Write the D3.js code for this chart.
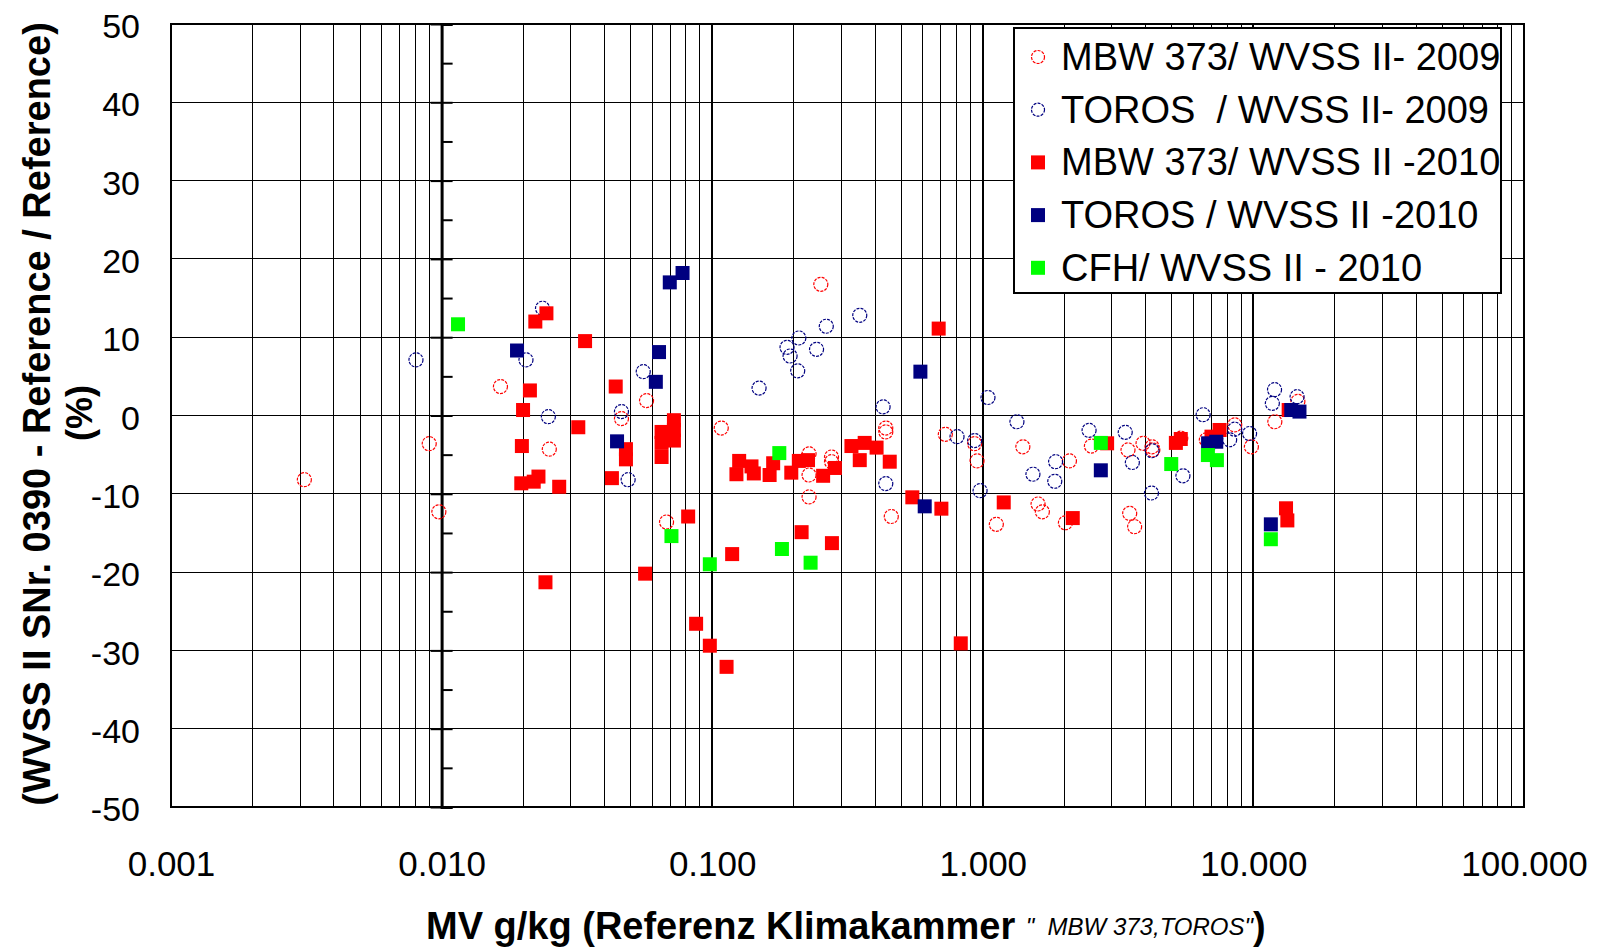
<!DOCTYPE html>
<html>
<head>
<meta charset="utf-8">
<script src="https://cdn.jsdelivr.net/npm/d3@7"></script>
<style>
  body { margin: 0; background: #fff; }
  svg { display: block; font-family: "Liberation Sans", Arial, sans-serif; }
</style>
</head>
<body>
<svg id="chart" width="1599" height="949"></svg>
<script>
// series values: [MV g/kg, deviation %]
var mbw2009 = [[0.00311,-8.2],[0.0090,-3.6],[0.00977,-12.3],[0.0165,3.7],[0.0250,-4.3],[0.0462,-0.4],
  [0.0572,1.9],[0.0678,-13.6],[0.108,-1.6],[0.252,16.75],[0.228,-4.9],[0.228,-7.6],[0.228,-10.4],
  [0.276,-5.3],[0.276,-5.9],[0.438,-1.6],[0.438,-2.1],[0.459,-12.9],[0.727,-2.4],[0.933,-3.6],
  [0.952,-5.8],[1.122,-13.9],[1.406,-4.0],[1.60,-11.3],[1.66,-12.3],[2.09,-5.8],[2.02,-13.7],
  [2.52,-3.9],[3.44,-4.4],[3.49,-12.5],[3.64,-14.2],[3.91,-3.55],[4.22,-4.0],[4.25,-4.4],
  [5.39,-2.9],[6.70,-3.1],[8.53,-1.2],[9.83,-4.0],[12.0,-0.8],[14.6,1.8]];
var toros2009 = [[0.00804,7.1],[0.0236,13.7],[0.0205,7.1],[0.0248,-0.15],[0.0462,0.5],[0.0489,-8.2],
  [0.0556,5.6],[0.149,3.5],[0.189,8.7],[0.194,7.6],[0.209,9.9],[0.207,5.7],[0.243,8.45],[0.264,11.4],
  [0.351,12.8],[0.428,1.1],[0.438,-8.7],[0.803,-2.7],[0.933,-3.2],[0.977,-9.6],[1.045,2.3],
  [1.337,-0.8],[1.532,-7.5],[1.858,-5.9],[1.845,-8.4],[2.47,-1.9],[3.36,-2.15],[3.57,-6.0],
  [4.22,-4.5],[4.20,-9.9],[5.49,-7.7],[6.52,0.1],[8.17,-3.1],[8.53,-1.75],[9.68,-2.3],
  [11.97,3.3],[11.75,1.55],[14.5,2.4]];
var mbw2010 = [[0.0244,13.05],[0.0222,12.0],[0.0339,9.5],[0.0440,3.7],[0.0212,3.2],[0.0200,0.7],
  [0.0320,-1.5],[0.0198,-3.9],[0.0197,-8.66],[0.0219,-8.45],[0.0228,-7.8],[0.0272,-9.1],[0.0426,-8.0],
  [0.0242,-21.3],[0.048,-4.3],[0.048,-5.6],[0.0722,-0.6],[0.0722,-1.85],[0.0722,-3.2],[0.0650,-2.1],
  [0.0650,-3.5],[0.0650,-5.3],[0.1258,-5.8],[0.1229,-7.5],[0.1397,-6.5],[0.1425,-7.4],[0.163,-7.6],
  [0.168,-6.1],[0.196,-7.3],[0.209,-5.8],[0.226,-5.7],[0.257,-7.7],[0.284,-6.7],[0.327,-3.9],
  [0.366,-3.5],[0.405,-4.1],[0.351,-5.7],[0.453,-5.9],[0.549,-10.45],[0.0815,-12.9],[0.1185,-17.7],
  [0.0565,-20.2],[0.214,-14.9],[0.277,-16.3],[0.0872,-26.6],[0.098,-29.4],[0.113,-32.1],[0.687,11.1],
  [0.703,-11.9],[0.829,-29.1],[1.195,-11.1],[2.15,-13.1],[2.88,-3.55],[5.17,-3.5],[5.39,-3.0],
  [7.50,-1.85],[7.0,-2.7],[13.5,0.7],[13.2,-11.85],[13.35,-13.4]];
var toros2010 = [[0.0190,8.3],[0.0445,-3.3],[0.0777,18.2],[0.0697,17.0],[0.0636,8.1],[0.0619,4.3],
  [0.588,5.6],[0.610,-11.6],[2.73,-7.0],[7.29,-3.35],[6.8,-3.55],[13.8,0.7],[14.8,0.5],[11.6,-13.9]];
var cfh2010 = [[0.0115,11.65],[0.0707,-15.4],[0.098,-19.0],[0.177,-4.8],[0.181,-17.05],[0.231,-18.8],
  [2.73,-3.5],[4.97,-6.2],[6.79,-5.05],[7.33,-5.7],[11.6,-15.8]];

var seriesNames = ['MBW 373/ WVSS II- 2009', 'TOROS\u00a0 / WVSS II- 2009', 'MBW 373/ WVSS II -2010',
  'TOROS / WVSS II -2010', 'CFH/ WVSS II - 2010'];
var xTicks = [0.001, 0.01, 0.1, 1, 10, 100];
var yTicks = [-50, -40, -30, -20, -10, 0, 10, 20, 30, 40, 50];

var series = [
  { name: seriesNames[0], data: mbw2009, shape: 'circle', color: '#ff0000' },
  { name: seriesNames[1], data: toros2009, shape: 'circle', color: '#000080' },
  { name: seriesNames[2], data: mbw2010, shape: 'square', color: '#ff0000' },
  { name: seriesNames[3], data: toros2010, shape: 'square', color: '#000080' },
  { name: seriesNames[4], data: cfh2010, shape: 'square', color: '#00ff00' }
];

var margin = { top: 24, right: 75, bottom: 142, left: 171 },
    width = 1599 - margin.left - margin.right,
    height = 949 - margin.top - margin.bottom;

var svg = d3.select('#chart');
var chart = svg.append('g').attr('transform', 'translate(' + margin.left + ',' + margin.top + ')');

var x = d3.scaleLog().domain([0.001, 100]).range([0, width]);
var y = d3.scaleLinear().domain([-50, 50]).range([height, 0]);

// grid: minor verticals at 2..9 of each decade, decades thicker
var minor = [];
xTicks.slice(0, -1).forEach(function(d) {
    for (var k = 2; k <= 9; k++) minor.push(d * k);
});
var grid = chart.append('g').attr('shape-rendering', 'crispEdges');
grid.selectAll('line.minor')
    .data(minor)
    .join('line')
    .attr('class', 'minor')
    .attr('x1', d => x(d)).attr('x2', d => x(d))
    .attr('y1', 0).attr('y2', height)
    .attr('stroke', '#000').attr('stroke-width', 1);
grid.selectAll('line.decade')
    .data([0.1, 1, 10])
    .join('line')
    .attr('class', 'decade')
    .attr('x1', d => x(d)).attr('x2', d => x(d))
    .attr('y1', 0).attr('y2', height)
    .attr('stroke', '#000').attr('stroke-width', 2);
grid.selectAll('line.h')
    .data(yTicks.slice(1, -1))
    .join('line')
    .attr('class', 'h')
    .attr('x1', 0).attr('x2', width)
    .attr('y1', d => y(d)).attr('y2', d => y(d))
    .attr('stroke', '#000').attr('stroke-width', 1);

// plot frame
chart.append('rect')
    .attr('width', width).attr('height', height)
    .attr('fill', 'none').attr('stroke', '#000').attr('stroke-width', 2)
    .attr('shape-rendering', 'crispEdges');

// y axis line sits at x = 0.010 with ticks on both sides
var yAxisG = chart.append('g').attr('transform', 'translate(' + x(0.01) + ',0)');
yAxisG.append('g')
    .call(d3.axisRight(y).tickValues(d3.range(-50, 51, 5)).tickSize(11).tickFormat(''))
    .call(g => g.select('.domain').attr('stroke-width', 3))
    .call(g => g.selectAll('.tick line').attr('stroke-width', 2));
yAxisG.append('g')
    .call(d3.axisLeft(y).tickValues(yTicks).tickSize(11).tickFormat(''))
    .call(g => g.select('.domain').remove())
    .call(g => g.selectAll('.tick line').attr('stroke-width', 2));

// tick labels (plain hyphen for negatives, as in the original)
chart.append('g')
    .call(d3.axisLeft(y).tickValues(yTicks).tickSize(0).tickPadding(31).tickFormat(d => String(d)))
    .call(g => g.select('.domain').remove())
    .call(g => g.selectAll('text').attr('font-size', '34px').attr('font-family', '"Liberation Sans", Arial').attr('fill', '#000').attr('dy', '0.4em'));

chart.append('g')
    .attr('transform', 'translate(0,' + height + ')')
    .call(d3.axisBottom(x).tickValues(xTicks).tickSize(0).tickPadding(44).tickFormat(d3.format('.3f')))
    .call(g => g.select('.domain').remove())
    .call(g => g.selectAll('text').attr('font-size', '35px').attr('font-family', '"Liberation Sans", Arial').attr('fill', '#000'));

// points
var sq = 14;
series.forEach(function(s) {
    var g = chart.append('g');
    if (s.shape === 'circle') {
        g.selectAll('circle')
            .data(s.data)
            .join('circle')
            .attr('cx', d => x(d[0]))
            .attr('cy', d => y(d[1]))
            .attr('r', 7)
            .attr('fill', 'none')
            .attr('stroke', s.color)
            .attr('stroke-width', 1.2)
            .attr('stroke-dasharray', '3 1.2');
    } else {
        g.selectAll('rect')
            .data(s.data)
            .join('rect')
            .attr('x', d => x(d[0]) - sq / 2)
            .attr('y', d => y(d[1]) - sq / 2)
            .attr('width', sq)
            .attr('height', sq)
            .attr('fill', s.color);
    }
});

// legend
var legend = svg.append('g').attr('transform', 'translate(1014,28)');
legend.append('rect')
    .attr('width', 487).attr('height', 265)
    .attr('fill', '#fff').attr('stroke', '#000').attr('stroke-width', 1.5)
    .attr('shape-rendering', 'crispEdges');
var items = legend.selectAll('g.item')
    .data(series)
    .join('g')
    .attr('class', 'item')
    .attr('transform', (d, i) => 'translate(0,' + (29 + i * 52.7) + ')');
items.each(function(d) {
    var g = d3.select(this);
    if (d.shape === 'circle') {
        g.append('circle').attr('cx', 24).attr('cy', 0).attr('r', 6.5)
            .attr('fill', 'none').attr('stroke', d.color).attr('stroke-width', 1.2)
            .attr('stroke-dasharray', '3 1.2');
    } else {
        g.append('rect').attr('x', 17).attr('y', -7).attr('width', 14).attr('height', 14).attr('fill', d.color);
    }
});
items.append('text')
    .attr('x', 47)
    .attr('y', 13)
    .attr('font-size', '38px')
    .attr('fill', '#000')
    .style('white-space', 'pre')
    .text(d => d.name);

// axis titles
var xTitle = svg.append('text')
    .attr('x', 426)
    .attr('y', 939)
    .attr('fill', '#000');
xTitle.append('tspan').attr('font-size', '38px').attr('font-weight', 'bold').text('MV g/kg (Referenz Klimakammer ');
xTitle.append('tspan').attr('font-size', '24px').attr('font-style', 'italic').attr('dy', -4)
    .style('white-space', 'pre').text('"  MBW 373,TOROS"');
xTitle.append('tspan').attr('font-size', '38px').attr('font-weight', 'bold').attr('dy', 4).text(')');

svg.append('text')
    .attr('transform', 'translate(50,414) rotate(-90)')
    .attr('text-anchor', 'middle')
    .attr('font-size', '38px')
    .attr('font-weight', 'bold')
    .attr('fill', '#000')
    .text('(WVSS II SNr. 0390 - Reference / Reference)');
svg.append('text')
    .attr('transform', 'translate(92,413) rotate(-90)')
    .attr('text-anchor', 'middle')
    .attr('font-size', '36px')
    .attr('font-weight', 'bold')
    .attr('fill', '#000')
    .text('(%)');
</script>
</body>
</html>
